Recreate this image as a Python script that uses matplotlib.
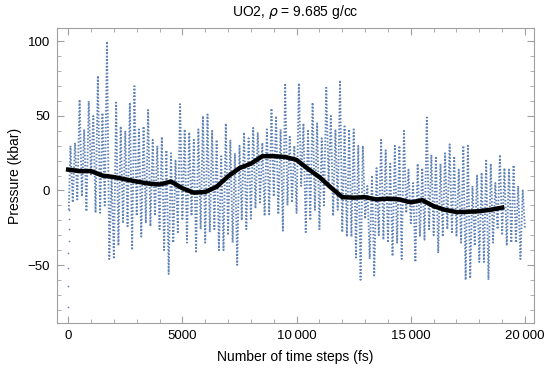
import numpy as np
import matplotlib.pyplot as plt
from matplotlib.ticker import MultipleLocator, FuncFormatter

plt.rcParams['font.family'] = ['Liberation Sans', 'DejaVu Sans']

# first few steps: pressure climbs quickly from the starting value
start_t = [0, 4, 8, 12, 16, 20, 24, 28]
start_p = [-78, -64, -52, -42, -34, -26, -19, -13]

# raw pressure, read every 100 fs (t = 100 ... 20000), alternating peak / trough
step_fs = 100
raw_p = [
    30, -8, 32, -6, 61, -4, 41, -14, 60, 10,
    50, -15, 77, -15, 52, -10, 100, -46, 10, -46,
    59, -37, 43, -22, 40, -24, 59, -40, 70, -17,
    41, -31, 43, -22, 54, -24, 34, -17, 30, -26,
    36, -40, 27, -56, 25, -35, 20, -28, 58, -20,
    41, -35, 39, -17, 34, -42, 41, -26, 50, -35,
    51, -28, 40, -26, 34, -40, 23, -40, 45, -30,
    34, -35, 25, -50, 30, -20, 39, -26, 35, -19,
    42, -12, 39, -8, 32, -17, 41, -16, 55, -4,
    50, -16, 41, -27, 72, -10, 36, -8, 30, -15,
    72, 3, 45, -28, 40, -20, 59, -13, 45, -26,
    35, -10, 69, 5, 50, -17, 41, -13, 74, -28,
    43, -31, 41, -31, 41, -45, 30, -60, 30, -19,
    3, -46, 10, -57, 15, -30, 34, -33, 27, -35,
    18, -44, 30, -35, 30, -46, 40, -15, 14, -22,
    5, -48, 18, -31, 15, -33, 49, -26, 24, -30,
    23, -42, 18, -31, 25, -26, 31, -28, 23, -31,
    14, -35, 30, -60, 30, -59, 3, -37, 10, -48,
    12, -48, 20, -60, 18, -35, 5, -26, 24, -30,
    15, -37, 14, -35, 17, -35, 3, -46, 0, -26,
]

# running average, every 500 fs from 0 to 19000
avg_step = 500
avg_p = [14, 13, 13, 10, 9, 7.5, 6, 4.7, 4, 6,
         1.5, -1.5, -1, 2.5, 9.5, 15, 18, 23, 23, 22.5,
         20.5, 14.5, 9, 2, -4.5, -4.8, -4.5, -6, -5.5, -6,
         -8, -6.5, -10.5, -13, -14.5, -14.3, -13.9, -12.9, -11.5]

raw_t = step_fs * np.arange(1, len(raw_p) + 1)
avg_t = avg_step * np.arange(len(avg_p))

blue = '#5E81B5'
fig = plt.figure(figsize=(5.5, 3.71), dpi=100)
ax = fig.add_axes([0.1036, 0.129, 0.868, 0.7955])

ax.plot(start_t, start_p, '.', color=blue, ms=2.4, mew=0)
ax.plot(np.concatenate([start_t[-1:], raw_t]), [start_p[-1]] + raw_p,
        color=blue, lw=1.35, linestyle=(0, (0.8, 1.0)))
ax.plot(avg_t, avg_p, color='black', lw=3.2, solid_joinstyle='round')

ax.set_xlim(-490, 20410)
ax.set_ylim(-89, 109)

ax.xaxis.set_major_locator(MultipleLocator(5000))
ax.xaxis.set_minor_locator(MultipleLocator(1000))
ax.yaxis.set_major_locator(MultipleLocator(50))
ax.yaxis.set_minor_locator(MultipleLocator(10))

def fmt(v, pos):
    s = '%d' % v
    if abs(v) >= 10000:
        s = s[:-3] + '\u2009' + s[-3:]
    return s.replace('-', '\u2212')

ax.xaxis.set_major_formatter(FuncFormatter(fmt))
ax.yaxis.set_major_formatter(FuncFormatter(fmt))

ax.tick_params(which='both', direction='in', top=True, right=True,
               color='#a0a0a0', labelsize=9.5, pad=5)
ax.tick_params(which='major', length=5, width=0.8)
ax.tick_params(which='minor', length=2.8, width=0.6)
for s in ax.spines.values():
    s.set_color('#a0a0a0')
    s.set_linewidth(0.8)

ax.set_title(r'UO2, $\rho$ = 9.685 g/cc', fontsize=10, pad=9)
ax.set_xlabel('Number of time steps (fs)', fontsize=10, labelpad=6)
ax.set_ylabel('Pressure (kbar)', fontsize=10, labelpad=4)

fig.savefig('out.png', dpi=100)
